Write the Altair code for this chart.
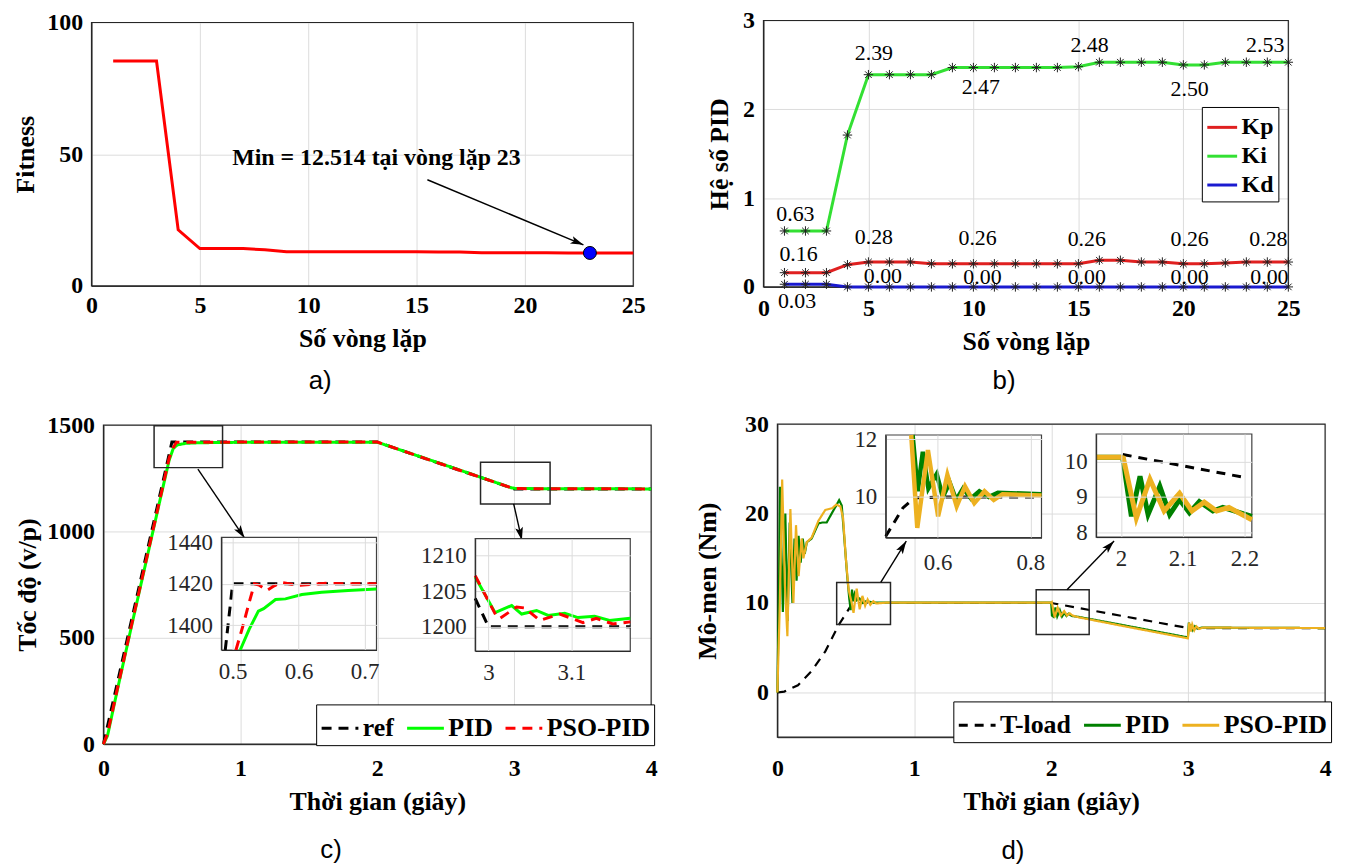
import math
import altair as alt
import pandas as pd

# ================= DATA =================
# (a) fitness per iteration
iters = list(range(1, 26))
fitness = [85.4, 85.4, 85.4, 21.3, 14.2, 14.2, 14.2, 13.7, 13.0, 13.0, 13.0, 13.0, 13.0,
           13.0, 12.95, 12.9, 12.85, 12.6, 12.6, 12.6, 12.55, 12.53, 12.514, 12.514, 12.514]
min_iter = [23]
min_fit = [12.514]
min_text = ["Min = 12.514 tại vòng lặp 23"]
min_text_x = [13.15]
min_text_y = [48.4]
a_arrow = dict(x=[15.5], y=[40.3], x2=[22.7], y2=[15.6])

# (b) PID gains per iteration
gain_names = ["Kp", "Ki", "Kd"]
kp = [0.16, 0.16, 0.16, 0.25, 0.28, 0.28, 0.28, 0.26, 0.26, 0.26, 0.26, 0.26, 0.26,
      0.26, 0.26, 0.30, 0.30, 0.28, 0.28, 0.26, 0.26, 0.27, 0.28, 0.28, 0.28]
ki = [0.63, 0.63, 0.63, 1.71, 2.39, 2.39, 2.39, 2.39, 2.47, 2.47, 2.47, 2.47, 2.47,
      2.47, 2.48, 2.53, 2.53, 2.53, 2.53, 2.50, 2.50, 2.53, 2.53, 2.53, 2.53]
kd = [0.03, 0.03, 0.03, 0.0, 0.0, 0.0, 0.0, 0.0, 0.0, 0.0, 0.0, 0.0, 0.0,
      0.0, 0.0, 0.0, 0.0, 0.0, 0.0, 0.0, 0.0, 0.0, 0.0, 0.0, 0.0]
gain_label_text = ["0.63", "2.39", "2.47", "2.48", "2.50", "2.53",
                   "0.16", "0.28", "0.26", "0.26", "0.26", "0.28",
                   "0.03", "0.00", "0.00", "0.00", "0.00", "0.00"]
gain_label_x = [1.52, 5.26, 10.35, 15.53, 20.3, 23.9,
                1.67, 5.26, 10.2, 15.4, 20.3, 24.05,
                1.6, 5.69, 10.43, 15.4, 20.3, 24.1]
gain_label_y = [0.82, 2.63, 2.25, 2.72, 2.23, 2.72,
                0.37, 0.56, 0.55, 0.535, 0.535, 0.535,
                -0.16, 0.12, 0.11, 0.11, 0.11, 0.11]

# (c) speed
speed_names = ["ref", "PID", "PSO-PID"]
ref_t = [0, 0.5, 2.0, 3.0, 4.0]
ref_v = [0, 1420, 1420, 1200, 1200]
pid_t = [0, 0.03, 0.1, 0.2, 0.3, 0.4, 0.48, 0.51, 0.54, 0.6, 0.7, 1.0, 2.0, 2.5, 2.98,
         3.01, 3.05, 3.1, 3.2, 4.0]
pid_v = [0, 40, 250, 540, 825, 1110, 1335, 1390, 1407, 1414, 1417, 1419, 1419.5, 1311,
         1205, 1202, 1202.3, 1201.5, 1200.8, 1200]
pso_t = [0, 0.03, 0.1, 0.2, 0.3, 0.4, 0.48, 0.505, 0.533, 0.6, 1.0, 2.0, 2.5, 2.98, 3.01,
         3.05, 3.1, 3.2, 4.0]
pso_v = [0, 50, 255, 545, 830, 1115, 1345, 1388, 1419, 1419, 1420, 1420, 1310, 1205,
         1201.5, 1202, 1201, 1200.5, 1200]
# zoom c1 (around t = 0.5)
c1_ref_t = [0.4888, 0.5, 0.718]
c1_ref_v = [1388, 1420, 1420]
c1_pid_t = [0.5115, 0.525, 0.539, 0.547, 0.565, 0.58, 0.605, 0.635, 0.675, 0.718]
c1_pid_v = [1388, 1398, 1406.8, 1408, 1412.4, 1412.7, 1414.8, 1415.9, 1416.8, 1417.5]
c1_pso_t = [0.505, 0.515, 0.524, 0.533, 0.54, 0.552, 0.563, 0.574, 0.599, 0.617, 0.642,
            0.682, 0.718]
c1_pso_v = [1388, 1399, 1409.7, 1420, 1419.4, 1416.8, 1419, 1420.6, 1419.2, 1419.6,
            1420.2, 1420, 1420]
# zoom c2 (around t = 3)
c2_ref_t = [2.984, 3.0, 3.171]
c2_ref_v = [1204.0, 1200, 1200]
c2_pid_t = [2.984, 3.008, 3.028, 3.04, 3.058, 3.072, 3.092, 3.108, 3.128, 3.146, 3.171]
c2_pid_v = [1207.0, 1202.0, 1203.0, 1201.8, 1202.3, 1201.6, 1201.9, 1201.3, 1201.5,
            1200.9, 1201.2]
c2_pso_t = [2.984, 3.01, 3.014, 3.034, 3.044, 3.062, 3.086, 3.114, 3.13, 3.15, 3.171]
c2_pso_v = [1207.2, 1201.4, 1201.2, 1202.8, 1202.65, 1200.9, 1201.8, 1200.6, 1201.2,
            1200.4, 1200.7]
c_box = dict(x0=[0.37, 2.754], x1=[0.87, 3.262], y0=[1300, 1129.5], y1=[1497, 1325.7])
c_arrow = dict(x=[0.69, 2.996], y=[1293, 1130], x2=[1.031, 3.056], y2=[969, 959])

# (d) torque
torque_names = ["T-load", "PID", "PSO-PID"]
tl_t = [0, 0.05, 0.15, 0.25, 0.35, 0.45, 0.55, 2.0, 3.0, 4.0]
tl_v = [0, 0.1, 0.8, 2.4, 4.6, 7.6, 10, 10, 7.2, 7.2]
tp_t = [0, 0.012, 0.019, 0.04, 0.058, 0.075, 0.09, 0.11, 0.125, 0.14, 0.155, 0.17, 0.185,
        0.2, 0.215, 0.25, 0.3, 0.33, 0.36, 0.4, 0.43, 0.451, 0.47, 0.49, 0.51, 0.525,
        0.535, 0.545, 0.555, 0.565, 0.58, 0.6, 0.62, 0.65, 0.7, 2.0, 2.005, 2.017, 2.031,
        2.044, 2.063, 2.079, 2.095, 2.111, 2.127, 2.15, 2.2, 2.5, 2.998, 3.005, 3.015,
        3.025, 3.035, 3.05, 3.07, 3.1, 4.0]
tp_v = [0, 12, 23, 9, 20, 8, 19, 10, 17.2, 12.5, 17.5, 14.5, 17.2,
        15.5, 16.8, 17.2, 18.9, 19.0, 19.0, 20.1, 20.9, 21.5, 20.9, 17, 13, 10.5,
        9.2, 11.5, 10.2, 11.0, 10.3, 10.5, 10.0, 10.2, 10.05, 10.05, 8.6, 8.45, 9.5,
        8.5, 9.2, 8.5, 8.9, 8.55, 8.8, 8.55, 8.45, 7.6, 6.15, 7.8, 6.9,
        7.6, 7.0, 7.4, 7.15, 7.25, 7.2]
to_t = [0, 0.018, 0.035, 0.055, 0.073, 0.095, 0.117, 0.136, 0.155, 0.177, 0.19, 0.215,
        0.25, 0.3, 0.35, 0.4, 0.43, 0.46, 0.48, 0.5, 0.52, 0.543, 0.556, 0.579, 0.601,
        0.621, 0.641, 0.659, 0.679, 0.701, 0.721, 0.8, 2.0, 2.004, 2.025, 2.047, 2.07,
        2.095, 2.115, 2.135, 2.155, 2.2, 2.5, 2.998, 3.008, 3.02, 3.03, 3.045, 3.06,
        3.08, 3.11, 4.0]
to_v = [0, 10, 23.8, 12, 6.3, 20.5, 10, 18.7, 13.0, 17.2, 15, 16.8,
        17.3, 19.2, 20.4, 20.6, 21.0, 20.8, 19.5, 15, 11.5, 10.0, 8.9, 11.6, 9.3,
        10.8, 9.7, 10.4, 9.8, 10.2, 9.95, 10.05, 10.05, 10.1, 8.4, 9.5, 8.6,
        9.1, 8.6, 8.85, 8.6, 8.4, 7.5, 6.05, 7.8, 6.8, 7.6, 6.95, 7.4,
        7.1, 7.25, 7.2]
# zoom d1 (around t = 0.6)
d1_tl_t = [0.488, 0.525, 0.55, 0.607, 0.824]
d1_tl_v = [8.64, 9.62, 9.97, 10.0, 10.0]
d1_pid_t = [0.546, 0.557, 0.568, 0.58, 0.598, 0.611, 0.626, 0.64, 0.655, 0.672, 0.69,
            0.71, 0.73, 0.824]
d1_pid_v = [12.15, 10.2, 11.57, 10.3, 10.8, 10.0, 10.5, 9.9, 10.3, 9.95, 10.2, 10.0,
            10.15, 10.1]
d1_pso_t = [0.543, 0.556, 0.579, 0.601, 0.621, 0.641, 0.659, 0.679, 0.701, 0.721, 0.74,
            0.824]
d1_pso_v = [12.15, 8.93, 11.63, 9.33, 10.77, 9.68, 10.37, 9.79, 10.2, 9.9, 10.1, 10.05]
# zoom d2 (around t = 2)
d2_tl_t = [2.003, 2.2]
d2_tl_v = [10.2, 9.55]
d2_pid_t = [1.96, 2.0, 2.003, 2.017, 2.031, 2.044, 2.063, 2.079, 2.095, 2.111, 2.127,
            2.149, 2.165, 2.212]
d2_pid_v = [10.12, 10.12, 10.1, 8.45, 9.58, 8.5, 9.3, 8.5, 8.92, 8.55, 8.87, 8.6, 8.7, 8.45]
d2_pso_t = [1.96, 2.0, 2.004, 2.025, 2.047, 2.07, 2.095, 2.115, 2.135, 2.155, 2.175, 2.212]
d2_pso_v = [10.12, 10.12, 10.1, 8.4, 9.5, 8.6, 9.1, 8.6, 8.85, 8.6, 8.7, 8.35]
d_box = dict(x0=[0.433, 1.89], x1=[0.826, 2.277], y0=[7.59, 6.48], y1=[12.3, 11.48])
d_arrow = dict(x=[0.755, 2.115], y=[12.3, 11.48], x2=[0.9415, 2.459], y2=[16.92, 16.92])

panel_text = ["a)", "b)", "c)", "d)"]
panel_text_x = [10.55, 11.46, 1.662, 1.72]
panel_text_y = [-36.2, -1.063, -500, -17.67]

# ================= LAYOUT / STYLE =================
W, H = 1341, 860
SERIF = "Liberation Serif"
SANS = "Liberation Sans"
FRAME = "#262626"
GRID = "#dcdcdc"
GEO = {
    "a": dict(xd=[0, 25], yd=[0, 100], xr=[84, 629], yr=[277, 12]),
    "b": dict(xd=[0, 25], yd=[0, 3], xr=[760, 1288], yr=[278, 10]),
    "c": dict(xd=[0, 4], yd=[0, 1500], xr=[96, 647], yr=[738, 417]),
    "d": dict(xd=[0, 4], yd=[-5, 30], xr=[774, 1325], yr=[731, 416]),
    "c1": dict(xd=[0.483, 0.718], yd=[1388, 1442.4], xr=[214.7, 370.7], yr=[643.3, 530]),
    "c2": dict(xd=[2.984, 3.171], yd=[1196.6, 1212.4], xr=[470, 626], yr=[644.3, 531.3]),
    "d1": dict(xd=[0.488, 0.824], yd=[8.59, 12.15], xr=[883, 1039.7], yr=[530.3, 427]),
    "d2": dict(xd=[1.96, 2.212], yd=[7.86, 10.78], xr=[1094.7, 1251.3], yr=[529.7, 426]),
}


def sx(p):
    g = GEO[p]
    return alt.Scale(domain=g["xd"], range=g["xr"], nice=False, zero=False)


def sy(p):
    g = GEO[p]
    return alt.Scale(domain=g["yd"], range=g["yr"], nice=False, zero=False)


def axis_common(inset, fmt):
    return dict(format=fmt, labelFont=SERIF, labelFontSize=23 if inset else 24,
                labelFontWeight="normal" if inset else "bold",
                labelColor="#262626" if inset else "black", ticks=False,
                domainColor=FRAME, domainWidth=1, gridColor=GRID, gridWidth=1,
                titleFont=SERIF, titleFontSize=26, titleFontWeight="bold", titleColor="black",
                labelFlush=False, labelOverlap=False, zindex=1 if inset else 0)


def axis_x(p, values, title=None, inset=False, pad=8, tpad=8, fmt="d"):
    # labels/title only: bottom-oriented grids are mis-placed with custom ranges
    return alt.Axis(orient="bottom", offset=GEO[p]["yr"][0] - H, values=values, title=title,
                    labelPadding=pad, titlePadding=tpad, grid=False,
                    **axis_common(inset, fmt))


def grid_x(values, inset=False):
    # vertical grid lines only, from a top-oriented axis
    return alt.Axis(orient="top", values=values, title=None, labels=False, ticks=False,
                    domain=False, grid=True, gridColor=GRID, gridWidth=1,
                    zindex=1 if inset else 0)


def axis_y(p, values, title=None, inset=False, pad=9, tpad=8, fmt="d"):
    return alt.Axis(orient="left", offset=-GEO[p]["xr"][0], values=values, title=title,
                    labelPadding=pad, titlePadding=tpad, grid=True,
                    **axis_common(inset, fmt))


def enc_xy(p, xf="t", yf="v"):
    return dict(x=alt.X(f"{xf}:Q", scale=sx(p), axis=None),
                y=alt.Y(f"{yf}:Q", scale=sy(p), axis=None))


def frame(p, xvals, yvals, xtitle=None, ytitle=None, inset=False, xpad=8, ypad=9,
          ytpad=8, xfmt="d"):
    g = GEO[p]
    df = pd.DataFrame({"x0": [g["xd"][0]], "x1": [g["xd"][1]],
                       "y0": [g["yd"][0]], "y1": [g["yd"][1]]})
    if inset:
        mk = alt.Chart(df).mark_rect(fill="white", stroke="#404040", strokeWidth=1.2)
    else:
        mk = alt.Chart(df).mark_rect(filled=False, stroke=FRAME, strokeWidth=1.2)
    main = mk.encode(
        x=alt.X("x0:Q", scale=sx(p), axis=axis_x(p, xvals, xtitle, inset, xpad, 8, xfmt)),
        x2="x1",
        y=alt.Y("y0:Q", scale=sy(p), axis=axis_y(p, yvals, ytitle, inset, ypad, ytpad)),
        y2="y1")
    grid = alt.Chart(df).mark_rect(opacity=0).encode(
        x=alt.X("x0:Q", scale=sx(p), axis=grid_x(xvals, inset)), x2="x1",
        y=alt.Y("y0:Q", scale=sy(p), axis=None), y2="y1")
    return [main, grid]


def line(p, t, v, color, width, dash=None):
    kw = dict(color=color, strokeWidth=width)
    if dash:
        kw["strokeDash"] = dash
    return [alt.Chart(pd.DataFrame({"t": t, "v": v})).mark_line(**kw).encode(**enc_xy(p))]


def boxes(p, b):
    df = pd.DataFrame(b)
    return [alt.Chart(df).mark_rect(filled=False, stroke=FRAME, strokeWidth=1.5).encode(
        x=alt.X("x0:Q", scale=sx(p), axis=None), x2="x1",
        y=alt.Y("y0:Q", scale=sy(p), axis=None), y2="y1")]


ARROW = "M0,0L0.6,2L0,1.55L-0.6,2Z"


def to_px(p, x, y):
    g = GEO[p]
    (x0, x1), (y0, y1) = g["xd"], g["yd"]
    (r0, r1), (s0, s1) = g["xr"], g["yr"]
    return r0 + (x - x0) / (x1 - x0) * (r1 - r0), s0 + (y - y0) / (y1 - y0) * (s1 - s0)


def arrows(p, a):
    ang = []
    for x, y, x2, y2 in zip(a["x"], a["y"], a["x2"], a["y2"]):
        (ax_, ay_), (bx_, by_) = to_px(p, x, y), to_px(p, x2, y2)
        ang.append(math.degrees(math.atan2(bx_ - ax_, -(by_ - ay_))) % 360)
    df = pd.DataFrame(dict(a, angle=ang))
    rule = alt.Chart(df).mark_rule(color="black", strokeWidth=1.4).encode(
        x=alt.X("x:Q", scale=sx(p), axis=None), x2="x2",
        y=alt.Y("y:Q", scale=sy(p), axis=None), y2="y2")
    head = alt.Chart(df).mark_point(shape=ARROW, filled=True, color="black", opacity=1,
                                    size=170, strokeWidth=0).encode(
        x=alt.X("x2:Q", scale=sx(p), axis=None), y=alt.Y("y2:Q", scale=sy(p), axis=None),
        angle=alt.Angle("angle:Q", scale=None))
    return [rule, head]


def panel_label(p, i):
    df = pd.DataFrame({"x": [panel_text_x[i]], "y": [panel_text_y[i]], "s": [panel_text[i]]})
    return [alt.Chart(df).mark_text(font=SANS, fontSize=26, color="black", align="center",
                                    baseline="middle").encode(**enc_xy(p, "x", "y"),
                                                              text="s:N")]


def long(names, ts, vs):
    rows = []
    for n, t, v in zip(names, ts, vs):
        for a, b in zip(t, v):
            rows.append({"series": n, "t": a, "v": b})
    return pd.DataFrame(rows)


def legend(x, y, horizontal, size, sym, rowpad=2):
    return alt.Legend(title=None, orient="none", legendX=x, legendY=y,
                      direction="horizontal" if horizontal else "vertical",
                      labelFont=SERIF, labelFontWeight="bold", labelFontSize=size,
                      labelColor="black", symbolSize=sym, symbolStrokeWidth=3,
                      symbolType="stroke", fillColor="white", strokeColor="black",
                      padding=4, columnPadding=6, rowPadding=rowpad, labelOffset=3)


def legend_lines(p, df, names, colors, dashes, width, leg):
    return [alt.Chart(df).mark_line(strokeWidth=width).encode(
        **enc_xy(p),
        color=alt.Color("series:N", scale=alt.Scale(domain=names, range=colors), legend=leg),
        strokeDash=alt.StrokeDash("series:N", scale=alt.Scale(domain=names, range=dashes),
                                  legend=leg))]


units = []

# ================= PANEL A =================
units += frame("a", [0, 5, 10, 15, 20, 25], [0, 50, 100], "Số vòng lặp", "Fitness")
units += line("a", iters, fitness, "#FF0000", 3)
units += [alt.Chart(pd.DataFrame({"t": min_iter, "v": min_fit})).mark_point(
    filled=True, fill="#0000FF", stroke="black", strokeWidth=1, size=170, opacity=1
).encode(**enc_xy("a"))]
units += [alt.Chart(pd.DataFrame({"x": min_text_x, "y": min_text_y, "s": min_text})).mark_text(
    font=SERIF, fontSize=24, fontWeight="bold", color="black", align="center",
    baseline="middle").encode(**enc_xy("a", "x", "y"), text="s:N")]
units += arrows("a", a_arrow)
units += panel_label("a", 0)

# ================= PANEL B =================
gains_df = long(gain_names, [iters, iters, iters], [kp, ki, kd])
leg_b = legend(1201, 97, False, 24, 900, rowpad=0)
units += frame("b", [0, 5, 10, 15, 20, 25], [0, 1, 2, 3], "Số vòng lặp", "Hệ số PID",
               xpad=10, ytpad=10)
units += [alt.Chart(gains_df).mark_line(strokeWidth=3).encode(
    **enc_xy("b"),
    color=alt.Color("series:N", scale=alt.Scale(domain=gain_names,
                                                range=["#E02020", "#33E033", "#1A1AD0"]),
                    legend=leg_b))]
units += [alt.Chart(gains_df).mark_point(
    shape="M-1,0L1,0M0,-1L0,1M-0.7,-0.7L0.7,0.7M-0.7,0.7L0.7,-0.7",
    filled=False, color="#202020", strokeWidth=1, size=90, opacity=1).encode(**enc_xy("b"))]
units += [alt.Chart(pd.DataFrame({"x": gain_label_x, "y": gain_label_y,
                                  "s": gain_label_text})).mark_text(
    font=SERIF, fontSize=22, color="black", align="center", baseline="middle"
).encode(**enc_xy("b", "x", "y"), text="s:N")]
units += panel_label("b", 1)

# ================= PANEL C =================
speed_df = long(speed_names, [ref_t, pid_t, pso_t], [ref_v, pid_v, pso_v])
leg_c = legend(310, 698, True, 26, 1369)
units += frame("c", [0, 1, 2, 3, 4], [0, 500, 1000, 1500], "Thời gian (giây)",
               "Tốc độ (v/p)", xpad=13, ytpad=6)
units += legend_lines("c", speed_df, speed_names, ["black", "#00FF00", "#FF0000"],
                      [[10, 7], [1, 0], [10, 7]], 3, leg_c)
units += boxes("c", c_box)
units += arrows("c", c_arrow)
units += panel_label("c", 2)
# inset c1
units += frame("c1", [0.5, 0.6, 0.7], [1400, 1420, 1440], inset=True, xpad=11, xfmt="~g")
units += line("c1", c1_ref_t, c1_ref_v, "black", 3, [10, 7])
units += line("c1", c1_pid_t, c1_pid_v, "#00FF00", 3)
units += line("c1", c1_pso_t, c1_pso_v, "#FF0000", 3, [10, 7])
# inset c2
units += frame("c2", [3, 3.1], [1200, 1205, 1210], inset=True, xpad=11, xfmt="~g")
units += line("c2", c2_ref_t, c2_ref_v, "black", 3, [10, 7])
units += line("c2", c2_pid_t, c2_pid_v, "#00FF00", 3)
units += line("c2", c2_pso_t, c2_pso_v, "#FF0000", 3, [10, 7])

# ================= PANEL D =================
torque_df = long(torque_names, [tl_t, tp_t, to_t], [tl_v, tp_v, to_v])
leg_d = legend(951, 695, True, 26, 1369)
units += frame("d", [0, 1, 2, 3, 4], [0, 10, 20, 30], "Thời gian (giây)", "Mô-men (Nm)",
               xpad=20, ytpad=24)
units += legend_lines("d", torque_df, torque_names, ["black", "#008000", "#EDB120"],
                      [[9, 7], [1, 0], [1, 0]], 2.2, leg_d)
units += boxes("d", d_box)
units += arrows("d", d_arrow)
units += panel_label("d", 3)
# inset d1
units += frame("d1", [0.6, 0.8], [10, 12], inset=True, xpad=14, xfmt="~g")
units += line("d1", d1_tl_t, d1_tl_v, "black", 3, [9, 7])
units += line("d1", d1_pid_t, d1_pid_v, "#008000", 4.5)
units += line("d1", d1_pso_t, d1_pso_v, "#EDB120", 4.5)
# inset d2
units += frame("d2", [2, 2.1, 2.2], [8, 9, 10], inset=True, xpad=11, xfmt="~g")
units += line("d2", d2_tl_t, d2_tl_v, "black", 3, [9, 7])
units += line("d2", d2_pid_t, d2_pid_v, "#008000", 5)
units += line("d2", d2_pso_t, d2_pso_v, "#EDB120", 5)

chart = (
    alt.layer(*units)
    .resolve_scale(x="independent", y="independent", color="independent",
                   strokeDash="independent")
    .resolve_axis(x="independent", y="independent")
    .resolve_legend(color="independent", strokeDash="independent")
    .properties(width=W, height=H, padding=0, autosize=alt.AutoSizeParams(type="none"),
                background="white")
    .configure_view(stroke=None)
)

chart.save("out.html", embed_options={"renderer": "svg", "actions": False})
